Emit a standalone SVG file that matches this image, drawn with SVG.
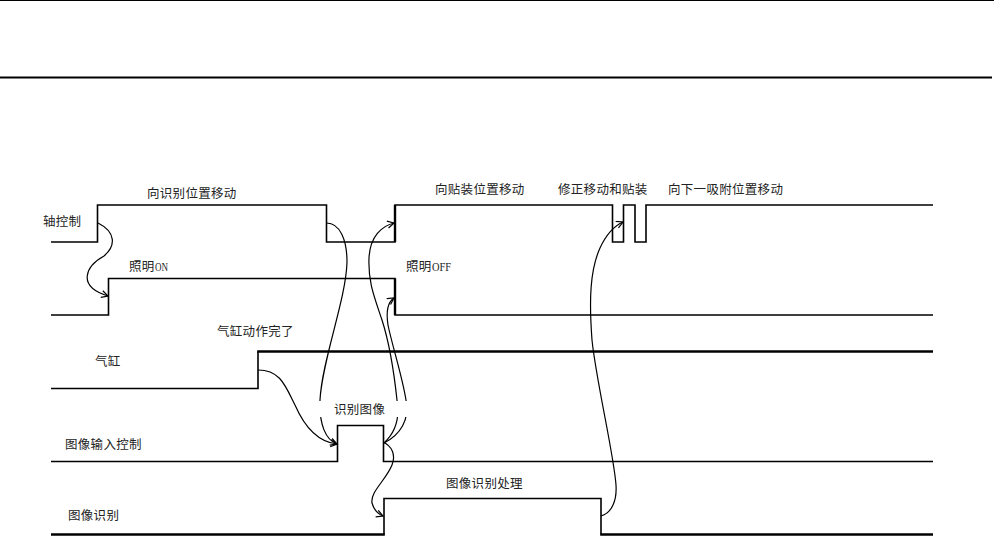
<svg xmlns="http://www.w3.org/2000/svg" width="994" height="540" viewBox="0 0 994 540">
<defs>
<style>
.sig{fill:none;stroke:#000;stroke-width:1.6;stroke-linejoin:miter}
.thick{fill:none;stroke:#000;stroke-width:2.6}
.con{fill:none;stroke:#000;stroke-width:1.2}
.lbl{font-family:"Liberation Serif","Noto Sans CJK SC",serif;font-size:12.5px;letter-spacing:0.3px;fill:#222}
.lat{font-family:"Liberation Serif",serif;font-size:12px;letter-spacing:0;fill:#222}
</style>
<marker id="arr" markerWidth="9" markerHeight="9" refX="7" refY="4" orient="auto" markerUnits="userSpaceOnUse">
<path d="M0.5,0.5 L7,4 L0.5,7.5" fill="none" stroke="#000" stroke-width="1.2"/>
</marker>
</defs>
<rect width="994" height="540" fill="#fff"/>
<g id="frame">
<path d="M0,0.5 H994" stroke="#000" stroke-width="1"/>
<path d="M0,77.5 H992" stroke="#000" stroke-width="2"/>
</g>
<g id="axis">
<path class="sig" d="M51,242 H97.5 V205 H326.5 V242 H395 V205 H612.5 V242 H623.5 V205 H635 V242 H646 V205 H933"/>
<path d="M395,242 V205" stroke="#000" stroke-width="2.4"/>
<text class="lbl" x="43" y="226">轴控制</text>
<text class="lbl" x="147" y="197.5">向识别位置移动</text>
<text class="lbl" x="435" y="193.5">向贴装位置移动</text>
<text class="lbl" x="558" y="193.5">修正移动和贴装</text>
<text class="lbl" x="668" y="193.5">向下一吸附位置移动</text>
</g>
<g id="illumination">
<path class="sig" d="M51,315 H108.5 V278.5 H395 V315 H933"/>
<path d="M395,278.5 V315" stroke="#000" stroke-width="2.4"/>
<text class="lbl" x="129" y="271">照明</text>
<text class="lat" x="155" y="271" textLength="13" lengthAdjust="spacingAndGlyphs">ON</text>
<text class="lbl" x="406" y="271">照明</text>
<text class="lat" x="432" y="271" textLength="19" lengthAdjust="spacingAndGlyphs">OFF</text>
</g>
<g id="cylinder">
<path class="sig" d="M51,388.5 H258 V351.5"/>
<path class="thick" d="M257.2,351.5 H933"/>
<text class="lbl" x="95" y="366">气缸</text>
<text class="lbl" x="217" y="336">气缸动作完了</text>
</g>
<g id="image-input">
<path class="sig" d="M51,461.5 H337.5 V425.5 H383.5 V461.5 H933"/>
<text class="lbl" x="65" y="448.5">图像输入控制</text>
</g>
<g id="image-recognition">
<path class="thick" d="M51,534.5 H384.8"/>
<path class="sig" d="M384,534.5 V498.5 H601 V534.5"/>
<path class="thick" d="M600.2,534.5 H933"/>
<text class="lbl" x="68" y="519.5">图像识别</text>
<text class="lbl" x="446" y="488">图像识别处理</text>
</g>
<g id="connectors">
<path class="con" marker-end="url(#arr)" d="M98,223 C116,232 116,246 104,256 C86,266 76,286 108,296"/>
<path class="con" marker-end="url(#arr)" d="M326.5,223 C340,223 347,240 347,262 C346,300 322,360 320,400 C319,425 326,440 337,444"/>
<path class="con" marker-end="url(#arr)" d="M258,370 C280,370 285,385 295,405 C305,428 318,442 337,444"/>
<path class="con" marker-end="url(#arr)" d="M384,443 C396,432 400,418 397,400 C394,372 390,345 382,320 C374,296 368,282 369,258 C370,236 382,226 394,223"/>
<path class="con" marker-end="url(#arr)" d="M384,443 C400,435 410,420 406,400 C402,375 392,345 388,325 C386,312 388,302 394,298"/>
<path class="con" marker-end="url(#arr)" d="M383,442 C392,446 396,455 392,465 C386,480 370,492 372,503 C374,510 378,514 383,516"/>
<path class="con" marker-end="url(#arr)" d="M601,516 C612,513 617,500 616,485 C614,455 596,380 592,340 C589,300 590,270 600,248 C606,235 614,226 623,222"/>
</g>
<g id="label-recognize-image">
<rect x="308" y="401" width="104" height="16" fill="#fff"/>
<text class="lbl" x="334" y="413.8">识别图像</text>
</g>
</svg>
